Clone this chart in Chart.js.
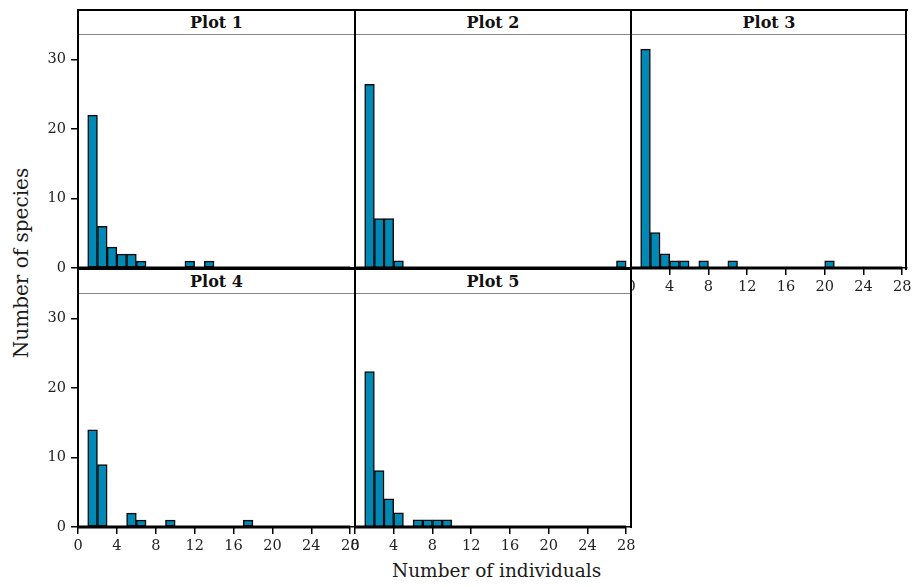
<!DOCTYPE html>
<html><head><meta charset="utf-8">
<script src="https://cdn.jsdelivr.net/npm/chart.js@4"></script>
<style>
html,body{margin:0;padding:0;background:#fff;}
#wrap{position:relative;width:917px;height:587px;overflow:hidden;font-family:'DejaVu Serif',serif;}
canvas{position:absolute;z-index:1;}
.strip{position:absolute;background:#fff;z-index:2;text-align:center;font-weight:bold;font-size:16px;color:#111;font-family:'DejaVu Serif',serif;}
.ln{position:absolute;z-index:3;}
.title{position:absolute;color:#1a1a1a;white-space:nowrap;font-family:'DejaVu Serif',serif;}
</style></head><body><div id="wrap"></div>
<script>
// ---- data ----
const panelNames = ['Plot 1', 'Plot 2', 'Plot 3', 'Plot 4', 'Plot 5'];
const binStarts = [0,1,2,3,4,5,6,7,8,9,10,11,12,13,14,15,16,17,18,19,20,21,22,23,24,25,26,27];
const plot1Counts = [0,22,6,3,2,2,1,0,0,0,0,1,0,1,0,0,0,0,0,0,0,0,0,0,0,0,0,0];
const plot2Counts = [0,26,7,7,1,0,0,0,0,0,0,0,0,0,0,0,0,0,0,0,0,0,0,0,0,0,0,1];
const plot3Counts = [0,31,5,2,1,1,0,1,0,0,1,0,0,0,0,0,0,0,0,0,1,0,0,0,0,0,0,0];
const plot4Counts = [0,14,9,0,0,2,1,0,0,1,0,0,0,0,0,0,0,1,0,0,0,0,0,0,0,0,0,0];
const plot5Counts = [0,22,8,4,2,0,1,1,1,1,0,0,0,0,0,0,0,0,0,0,0,0,0,0,0,0,0,0];
const binRange = [0, 28];
const xTicks = [0,4,8,12,16,20,24,28];
const yTicks = [0,10,20,30];
const xAxisMax = 28.5;
const yAxisMax = 33;
const xTitle = 'Number of individuals';
const yTitle = 'Number of species';

// ---- layout ----
const wrap = document.getElementById('wrap');
const colL = [78, 355, 631];
const colW = [277, 276, 276];
const rowT = [35, 294];
const rowH = [233, 233];
const stripH = 25;
const PADT = 10, PADR = 20, YW = 60, XH = 40;
const BAR = '#0089B4';

function div(cls, css, text) {
  const d = document.createElement('div');
  d.className = cls;
  d.style.cssText = css;
  if (text) d.textContent = text;
  wrap.appendChild(d);
  return d;
}

const panels = [
  {counts: plot1Counts, col: 0, row: 0, showX: false, showY: true},
  {counts: plot2Counts, col: 1, row: 0, showX: false, showY: false},
  {counts: plot3Counts, col: 2, row: 0, showX: true, showY: false},
  {counts: plot4Counts, col: 0, row: 1, showX: true, showY: true},
  {counts: plot5Counts, col: 1, row: 1, showX: true, showY: false}
];

const tickFont = {family: 'DejaVu Serif', size: 14.5};

panels.forEach((p, i) => {
  const L = colL[p.col], W = colW[p.col], T = rowT[p.row], H = rowH[p.row];
  const cv = document.createElement('canvas');
  cv.width = YW + W + PADR;
  cv.height = PADT + H + XH;
  cv.style.left = (L - YW) + 'px';
  cv.style.top = (T - PADT) + 'px';
  cv.style.width = cv.width + 'px';
  cv.style.height = cv.height + 'px';
  wrap.appendChild(cv);

  new Chart(cv.getContext('2d'), {
    data: {
      datasets: [
        {
          type: 'line',
          data: binRange.map(v => ({x: v, y: 0})),
          borderColor: '#000',
          borderWidth: 3,
          pointRadius: 0,
          order: 0,
          clip: 4
        },
        {
          type: 'bar',
          data: binStarts.map((b, k) => ({x: b + 0.5, y: p.counts[k]})),
          backgroundColor: BAR,
          borderColor: '#0a0a0a',
          borderWidth: 1.5,
          borderSkipped: false,
          barPercentage: 1,
          categoryPercentage: 1,
          order: 1
        }
      ]
    },
    options: {
      responsive: false,
      animation: false,
      devicePixelRatio: 1,
      layout: {padding: {top: PADT, right: PADR, left: 0, bottom: 0}},
      plugins: {legend: {display: false}, tooltip: {enabled: false}},
      scales: {
        x: {
          type: 'linear',
          min: 0, max: xAxisMax,
          offset: false,
          afterBuildTicks: s => { s.ticks = xTicks.map(v => ({value: v})); },
          afterFit: s => { s.height = XH; },
          ticks: {display: p.showX, font: tickFont, color: '#222', padding: 4, maxRotation: 0, autoSkip: false},
          grid: {display: p.showX, drawOnChartArea: false, offset: false, tickLength: 7, color: '#000', lineWidth: 1.5},
          border: {display: true, color: '#000', width: 1.5}
        },
        y: {
          type: 'linear',
          min: 0, max: yAxisMax,
          afterBuildTicks: s => { s.ticks = yTicks.map(v => ({value: v})); },
          afterFit: s => { s.width = YW; },
          ticks: {display: p.showY, font: tickFont, color: '#222', padding: 5},
          grid: {display: p.showY, drawOnChartArea: false, tickLength: 7, color: '#000', lineWidth: 1.5},
          border: {display: false}
        }
      }
    }
  });

  // strip
  const sTop = T - stripH;
  div('strip', `left:${L}px;top:${sTop}px;width:${W}px;height:${stripH}px;line-height:${stripH}px;`, panelNames[i]);
});

// frame lines
const black = 'background:#000;';
div('ln', `${black}left:77px;top:9px;width:831px;height:2px;`);          // top of row 1 strips
div('ln', `background:#888;left:78px;top:34px;width:829px;height:1px;`);  // under row 1 strips
div('ln', `${black}left:77px;top:268px;width:555px;height:2px;`);         // top of row 2 strips
div('ln', `background:#888;left:78px;top:293px;width:553px;height:1px;`); // under row 2 strips
div('ln', `${black}left:77px;top:9px;width:2px;height:519px;`);
div('ln', `${black}left:354px;top:9px;width:2px;height:519px;`);
div('ln', `${black}left:630px;top:9px;width:2px;height:519px;`);
div('ln', `${black}left:905px;top:9px;width:2px;height:261px;`);

// axis titles
div('title', `font-size:18.5px;left:392px;top:560px;width:200px;text-align:center;`, xTitle);
div('title', `font-size:20px;left:-79px;top:251px;width:200px;text-align:center;transform:rotate(-90deg);`, yTitle);
</script>
</body></html>
